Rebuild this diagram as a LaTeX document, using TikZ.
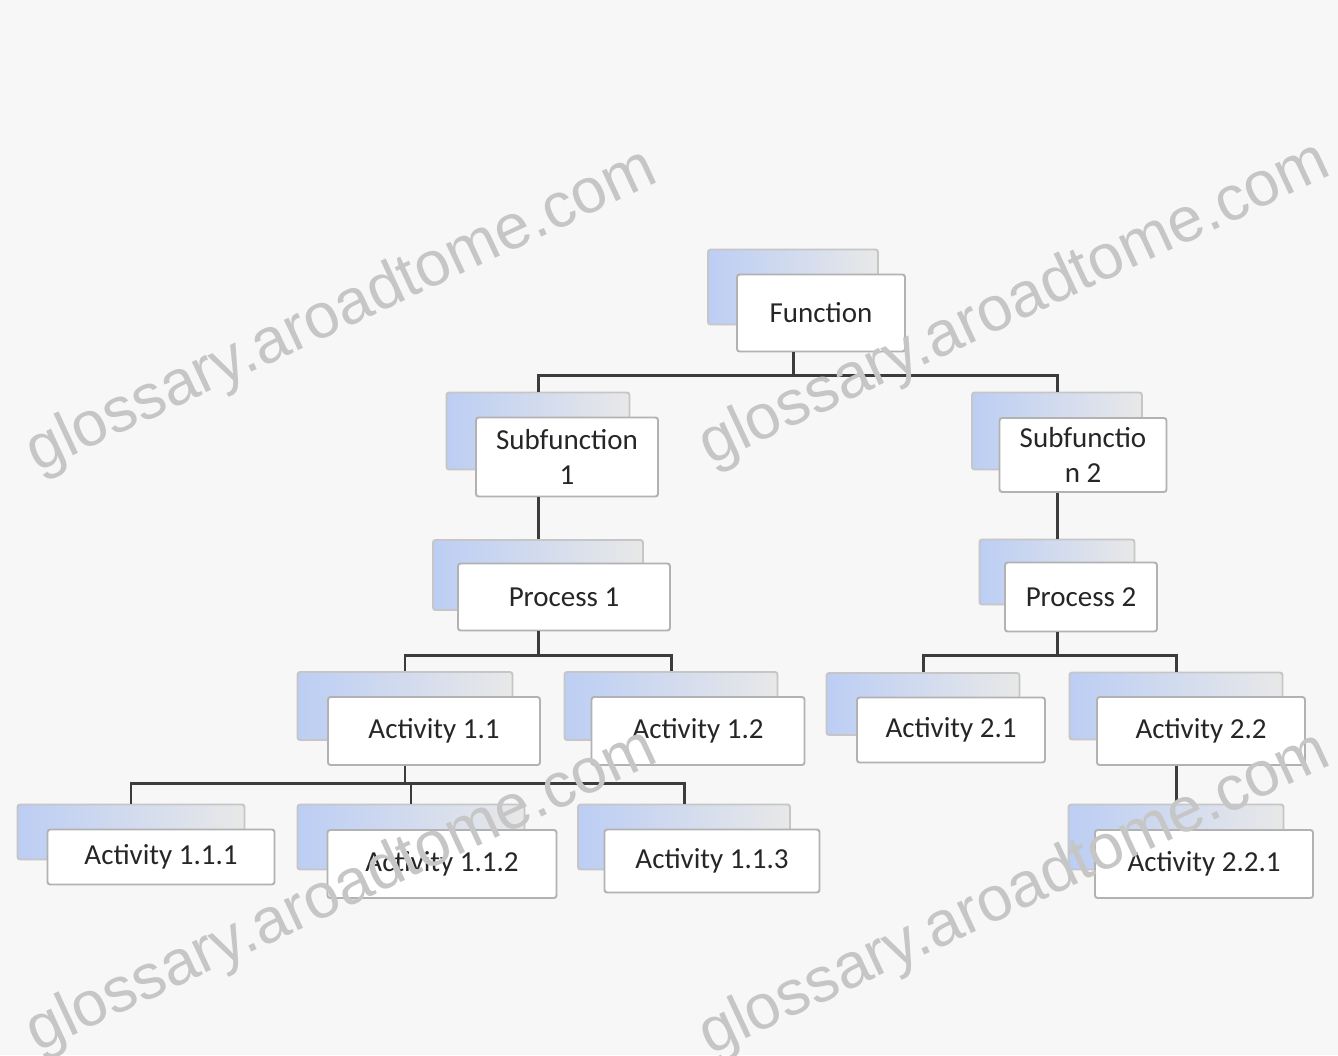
\documentclass[tikz,border=0pt]{standalone}
\usepackage{fontspec}
\setmainfont{Carlito}
\newfontfamily\markfont{Liberation Sans}
\usetikzlibrary{positioning}
\newlength\pxl
\setlength\pxl{0.02cm}
\definecolor{paper}{RGB}{247,247,247}
\definecolor{backblue}{RGB}{188,206,244}
\definecolor{linkgray}{RGB}{60,60,60}
\tikzset{
  backbox/.style={draw=gray!45,line width=1.1pt,rounded corners=1.5pt,
    left color=backblue,right color=gray!18,inner sep=0pt},
  frontbox/.style={draw=gray!60,line width=1.1pt,rounded corners=1.5pt,
    fill=white,inner sep=0pt,align=center,text=black!85,
    font=\fontsize{16.5}{20}\selectfont},
  link/.style={draw=linkgray,line width=1.7pt},
  wmark/.style={text=gray!45,rotate=25,font=\markfont\fontsize{36}{36}\selectfont}
}
\begin{document}
\begin{tikzpicture}[x=0.02cm,y=-0.02cm]
\useasboundingbox[fill=paper] (0,0) rectangle (1338,1055);

% function level
\node[backbox,minimum width=170\pxl,minimum height=75\pxl] (fnb) at (793,287) {};
\node[frontbox,minimum width=168\pxl,minimum height=77\pxl] (fn) at (821,313) {Function};

% subfunctions
\node[backbox,minimum width=183\pxl,minimum height=77\pxl] (sf1b) at (538,431) {};
\node[frontbox,minimum width=182\pxl,minimum height=79\pxl] (sf1) at (567,457) {Subfunction\\1};
\node[backbox,minimum width=170\pxl,minimum height=77\pxl] (sf2b) at (1057,431) {};
\node[frontbox,minimum width=167\pxl,minimum height=74\pxl] (sf2) at (1083,455) {Subfunctio\\n 2};

% processes
\node[backbox,minimum width=210\pxl,minimum height=70\pxl] (pr1b) at (538,575) {};
\node[frontbox,minimum width=212\pxl,minimum height=67\pxl] (pr1) at (564,597) {Process 1};
\node[backbox,minimum width=155\pxl,minimum height=65\pxl] (pr2b) at (1057,572) {};
\node[frontbox,minimum width=152\pxl,minimum height=69\pxl] (pr2) at (1081,597) {Process 2};

% activities
\node[backbox,minimum width=215\pxl,minimum height=68\pxl] (a11b) at (405,706) {};
\node[frontbox,minimum width=212\pxl,minimum height=68\pxl] (a11) at (434,731) {Activity 1.1};
\node[backbox,minimum width=213\pxl,minimum height=68\pxl] (a12b) at (671,706) {};
\node[frontbox,minimum width=213\pxl,minimum height=68\pxl] (a12) at (698,731) {Activity 1.2};
\node[backbox,minimum width=193\pxl,minimum height=62\pxl] (a21b) at (923,704) {};
\node[frontbox,minimum width=188\pxl,minimum height=65\pxl] (a21) at (951,730) {Activity 2.1};
\node[backbox,minimum width=213\pxl,minimum height=67\pxl] (a22b) at (1176,706) {};
\node[frontbox,minimum width=208\pxl,minimum height=68\pxl] (a22) at (1201,731) {Activity 2.2};

% sub-activities
\node[backbox,minimum width=227\pxl,minimum height=55\pxl] (a111b) at (131,832) {};
\node[frontbox,minimum width=227\pxl,minimum height=55\pxl] (a111) at (161,857) {Activity 1.1.1};
\node[backbox,minimum width=227\pxl,minimum height=65\pxl] (a112b) at (411,837) {};
\node[frontbox,minimum width=229\pxl,minimum height=68\pxl] (a112) at (442,864) {Activity 1.1.2};
\node[backbox,minimum width=212\pxl,minimum height=65\pxl] (a113b) at (684,837) {};
\node[frontbox,minimum width=215\pxl,minimum height=63\pxl] (a113) at (712,861) {Activity 1.1.3};
\node[backbox,minimum width=215\pxl,minimum height=65\pxl] (a221b) at (1176,837) {};
\node[frontbox,minimum width=218\pxl,minimum height=68\pxl] (a221) at (1204,864) {Activity 2.2.1};

% connectors
\draw[link] (fnb.center |- fn.south) -- (fnb.center |- 0,375);
\draw[link] (sf1b.north) |- (sf2b.north |- 0,375) -- (sf2b.north);
\draw[link] (sf1b.center |- sf1.south) -- (pr1b.north);
\draw[link] (sf2b.center |- sf2.south) -- (pr2b.north);
\draw[link] (pr1b.center |- pr1.south) -- (pr1b.center |- 0,655);
\draw[link] (a11b.north) |- (a12b.north |- 0,655) -- (a12b.north);
\draw[link] (pr2b.center |- pr2.south) -- (pr2b.center |- 0,655);
\draw[link] (a21b.north) |- (a22b.north |- 0,655) -- (a22b.north);
\draw[link] (a11b.center |- a11.south) -- (a11b.center |- 0,783);
\draw[link] (a111b.north) |- (a113b.north |- 0,783) -- (a113b.north);
\draw[link] (a112b.north) -- (a112b.north |- 0,783);
\draw[link] (a22b.center |- a22.south) -- (a221b.north);

% watermarks
\node[wmark] (wm1) at (342,312) {glossary.aroadtome.com};
\node[wmark] (wm2) at (1015,305) {glossary.aroadtome.com};
\node[wmark] (wm3) at (342,892) {glossary.aroadtome.com};
\node[wmark] (wm4) at (1015,895) {glossary.aroadtome.com};
\end{tikzpicture}
\end{document}
